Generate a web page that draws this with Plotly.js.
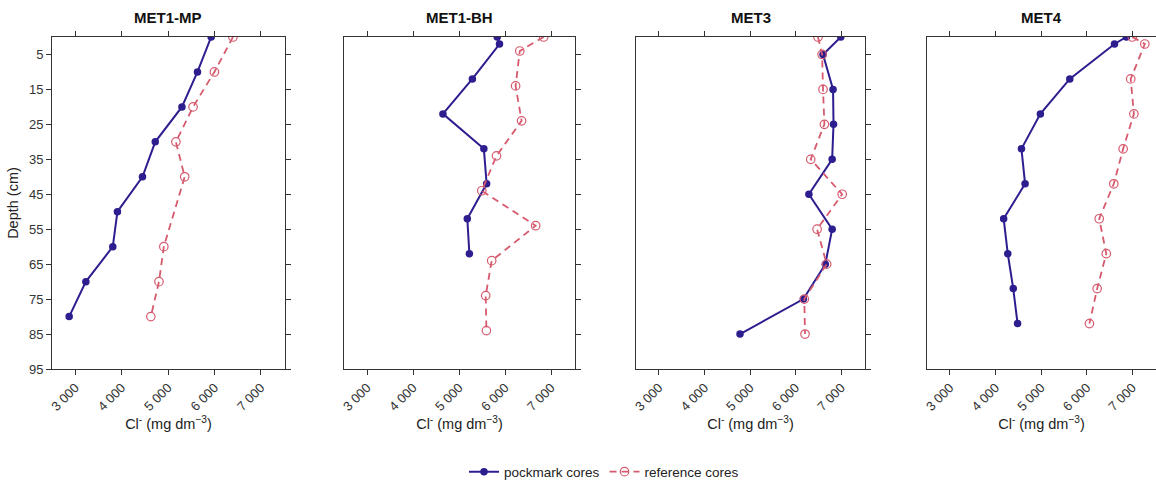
<!DOCTYPE html>
<html>
<head>
<meta charset="utf-8">
<script src="https://cdn.plot.ly/plotly-3.0.1.min.js"></script>
<style>html,body{margin:0;padding:0;background:#fff;}#chart{width:1156px;height:482px;}</style>
</head>
<body>
<div id="chart"></div>
<script>
// ---- data ----
const panelTitles = ["MET1-MP", "MET1-BH", "MET3", "MET4"];
const seriesNames = ["pockmark cores", "reference cores"];

const met1mpPockDepth = [0, 10, 20, 30, 40, 50, 60, 70, 80];
const met1mpPockCl    = [5930, 5635, 5300, 4725, 4450, 3910, 3810, 3230, 2870];
const met1mpRefDepth  = [0, 10, 20, 30, 40, 60, 70, 80];
const met1mpRefCl     = [6400, 6000, 5540, 5170, 5360, 4910, 4805, 4630];

const met1bhPockDepth = [0, 2, 12, 22, 32, 42, 52, 62];
const met1bhPockCl    = [5830, 5880, 5290, 4650, 5540, 5600, 5180, 5225];
const met1bhRefDepth  = [0, 4, 14, 24, 34, 44, 54, 64, 74, 84];
const met1bhRefCl     = [6840, 6320, 6230, 6360, 5815, 5495, 6665, 5710, 5580, 5595];

const met3PockDepth = [0, 5, 15, 25, 35, 45, 55, 65, 75, 85];
const met3PockCl    = [6990, 6600, 6820, 6830, 6800, 6290, 6800, 6650, 6170, 4780];
const met3RefDepth  = [0, 5, 15, 25, 35, 45, 55, 65, 75, 85];
const met3RefCl     = [6490, 6580, 6600, 6630, 6330, 7020, 6470, 6680, 6190, 6205];

const met4PockDepth = [0, 2, 12, 22, 32, 42, 52, 62, 72, 82];
const met4PockCl    = [6870, 6610, 5630, 4985, 4570, 4650, 4180, 4270, 4390, 4485];
const met4RefDepth  = [0, 2, 12, 22, 32, 42, 52, 62, 72, 82];
const met4RefCl     = [7000, 7275, 6965, 7035, 6800, 6595, 6275, 6430, 6230, 6060];

const xTickVals = [3000, 4000, 5000, 6000, 7000];
const xTickText = ["3 000", "4 000", "5 000", "6 000", "7 000"];
const yTickVals = [5, 15, 25, 35, 45, 55, 65, 75, 85, 95];
const yTickText = ["5", "15", "25", "35", "45", "55", "65", "75", "85", "95"];

const panels = [
  {pd: met1mpPockDepth, pc: met1mpPockCl, rd: met1mpRefDepth, rc: met1mpRefCl},
  {pd: met1bhPockDepth, pc: met1bhPockCl, rd: met1bhRefDepth, rc: met1bhRefCl},
  {pd: met3PockDepth, pc: met3PockCl, rd: met3RefDepth, rc: met3RefCl},
  {pd: met4PockDepth, pc: met4PockCl, rd: met4RefDepth, rc: met4RefCl}
];

// ---- styles ----
const pockColor = "#2D1E8F";
const refColor = "#D65A6E";
const axColor = "#333333";
const font = "Liberation Sans, Arial, sans-serif";
const domains = [[0, 0.211], [0.2645, 0.4737], [0.529, 0.7364], [0.7926, 1.0]];

const traces = [];
const layout = {
  width: 1156, height: 482,
  margin: {l: 52, r: 0, t: 37, b: 113},
  paper_bgcolor: "#ffffff", plot_bgcolor: "#ffffff",
  font: {family: font, size: 12, color: axColor},
  showlegend: true,
  legend: {orientation: "h", x: 0.5, xanchor: "center", xref: "paper",
           y: 0.021, yanchor: "middle", yref: "container",
           font: {family: font, size: 13.5, color: "#222"}, itemwidth: 30, tracegroupgap: 0},
  annotations: []
};

panels.forEach((p, i) => {
  const n = i + 1;
  const xa = "x" + (n === 1 ? "" : n), ya = "y" + (n === 1 ? "" : n);
  traces.push({
    x: p.pc, y: p.pd, xaxis: xa, yaxis: ya, type: "scatter", mode: "lines+markers",
    name: seriesNames[0], legendgroup: "p", showlegend: i === 0,
    line: {color: pockColor, width: 2}, marker: {color: pockColor, size: 7.5, symbol: "circle"}
  });
  traces.push({
    x: p.rc, y: p.rd, xaxis: xa, yaxis: ya, type: "scatter", mode: "lines+markers",
    name: seriesNames[1], legendgroup: "r", showlegend: i === 0,
    line: {color: refColor, width: 1.8, dash: "7px,5px"},
    marker: {color: refColor, size: 8.5, symbol: "circle-open", line: {width: 1.2}}
  });
  const xKey = "xaxis" + (n === 1 ? "" : n), yKey = "yaxis" + (n === 1 ? "" : n);
  layout[xKey] = {
    domain: domains[i], anchor: ya, range: [2500, 7520],
    tickvals: xTickVals, ticktext: xTickText, tickangle: -45,
    ticks: "outside", ticklen: 5, tickcolor: axColor, showline: true, linecolor: axColor,
    linewidth: 1, mirror: "ticks", showgrid: false, zeroline: false, automargin: false,
    tickfont: {family: font, size: 13, color: axColor},
    title: {text: "Cl<sup>-</sup> (mg dm<sup>−3</sup>)", font: {family: font, size: 14.5, color: "#222"}, standoff: 6}
  };
  layout[yKey] = {
    domain: [0, 1], anchor: xa, range: [95, 0],
    tickvals: yTickVals, ticktext: yTickText,
    ticks: "outside", ticklen: 5, tickcolor: axColor, showline: true, linecolor: axColor,
    linewidth: 1, showgrid: false, zeroline: false, automargin: false,
    tickfont: {family: font, size: 13, color: axColor}
  };
  if (i === 0) {
    layout[yKey].mirror = "ticks";
    layout[yKey].side = "left";
    layout[yKey].title = {text: "Depth (cm)", font: {family: font, size: 14.5, color: "#222"}, standoff: 6};
  } else {
    layout[yKey].side = "right";
    layout[yKey].mirror = true;
    layout[yKey].showticklabels = false;
  }
  layout.annotations.push({
    text: "<b>" + panelTitles[i] + "</b>", xref: "paper", yref: "paper",
    x: (domains[i][0] + domains[i][1]) / 2, y: 1.06, xanchor: "center", yanchor: "middle",
    showarrow: false, font: {family: font, size: 15, color: "#111"}
  });
});

Plotly.newPlot("chart", traces, layout, {displayModeBar: false, staticPlot: true});
</script>
</body>
</html>
